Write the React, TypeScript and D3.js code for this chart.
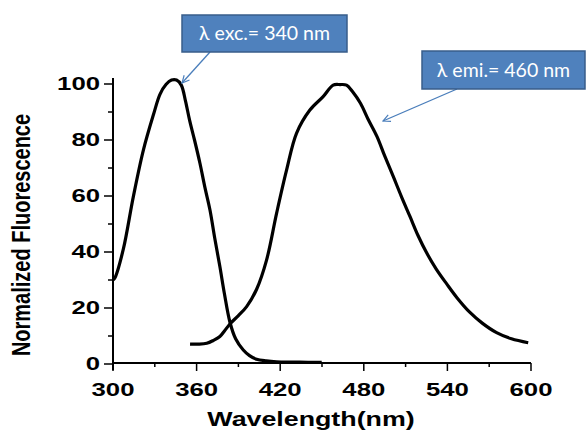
import React from 'react';
import * as d3 from 'd3';

// excitation spectrum
const excWave = [300, 301.4, 307.4, 314.6, 321.8, 329, 333.7, 338, 342, 345.6, 349, 352, 355, 358.5, 362.4, 366, 369.6, 373, 376.7, 380, 383.9, 388, 393.5, 398, 403, 410, 417.4, 430, 440, 449.8];
const excVal = [30, 30.8, 41, 59.8, 76.4, 89, 96.3, 99.8, 101.4, 101.4, 99.6, 94, 87, 80, 71.7, 63, 55, 45, 34.8, 25, 15, 9, 5, 3, 1.7, 1.1, 0.8, 0.7, 0.6, 0.6];

// emission spectrum
const emiWave = [355.3, 361, 367.3, 372, 376.7, 380, 383.9, 390, 395.9, 403, 410.2, 417.4, 424.6, 431.7, 441.3, 450.8, 458, 463, 467.6, 472, 477.6, 483, 489.5, 495, 501.2, 507, 513.2, 519, 525.1, 532, 539.5, 547, 556, 565, 575.3, 586, 598];
const emiVal = [7.1, 7.1, 7.4, 8.4, 9.8, 11.8, 14.3, 17.3, 20.5, 26.6, 37.1, 53.8, 69.3, 82.4, 90.7, 95.5, 99.6, 99.8, 99.6, 97.2, 93.1, 87.5, 81.2, 74.3, 66.9, 59.8, 52.6, 45.8, 39.7, 33.9, 28.6, 23.6, 18.5, 14.6, 11.2, 9, 7.6];

const xTicks = [300, 360, 420, 480, 540, 600];
const xMinor = [330, 390, 450, 510, 570];
const yTicks = [0, 20, 40, 60, 80, 100];
const yMinor = [10, 30, 50, 70, 90];

const callouts = [
  { text: 'λ exc.= 340 nm', box: [182, 15, 347, 52], from: [210, 52], to: [182, 83] },
  { text: 'λ emi.= 460 nm', box: [422, 51, 585, 89], from: [457, 89], to: [383, 121] },
];

const W = 586;
const H = 432;

export default function App() {
  const x = d3.scaleLinear().domain([300, 600]).range([113, 531]);
  const y = d3.scaleLinear().domain([0, 100]).range([364, 84]);

  const line = d3
    .line<[number, number]>()
    .x(d => x(d[0]))
    .y(d => y(d[1]))
    .curve(d3.curveCatmullRom.alpha(0.5));

  const exc = excWave.map((w, i) => [w, excVal[i]] as [number, number]);
  const emi = emiWave.map((w, i) => [w, emiVal[i]] as [number, number]);

  const tickFont = { fontFamily: 'Liberation Sans, Arial, sans-serif', fontWeight: 'bold', fontSize: 18 };

  return (
    <svg width={W} height={H} style={{ position: 'absolute', left: 0, top: 0, background: '#fff' }}>
      <defs>
        <marker id="arr" viewBox="0 0 10 10" refX="9" refY="5" markerWidth="9" markerHeight="9" orient="auto" markerUnits="userSpaceOnUse">
          <path d="M1,1 L9,5 L1,9" fill="none" stroke="#4a7ebb" strokeWidth="1.3" />
        </marker>
      </defs>

      {/* axes */}
      <line x1={x(300)} x2={x(300)} y1={78} y2={370} stroke="#000" strokeWidth={2} />
      <line x1={x(300)} x2={x(600)} y1={y(0) - 1} y2={y(0) - 1} stroke="#000" strokeWidth={2} />

      {yTicks.map(t => (
        <g key={'y' + t}>
          <line x1={x(300) - 9} x2={x(300)} y1={y(t)} y2={y(t)} stroke="#000" strokeWidth={1.5} />
          <text transform={`translate(100,${y(t)}) scale(1.43,1)`} textAnchor="end" dy="0.36em" {...tickFont}>
            {t}
          </text>
        </g>
      ))}
      {yMinor.map(t => (
        <line key={'ym' + t} x1={x(300) - 5} x2={x(300)} y1={y(t)} y2={y(t)} stroke="#000" strokeWidth={1.5} />
      ))}

      {xTicks.map(t => (
        <g key={'x' + t}>
          <line x1={x(t)} x2={x(t)} y1={y(0) - 1} y2={y(0) + 7} stroke="#000" strokeWidth={1.5} />
          <text transform={`translate(${x(t)},396) scale(1.43,1)`} textAnchor="middle" {...tickFont}>
            {t}
          </text>
        </g>
      ))}
      {xMinor.map(t => (
        <line key={'xm' + t} x1={x(t)} x2={x(t)} y1={y(0) - 1} y2={y(0) + 3} stroke="#000" strokeWidth={1.5} />
      ))}

      <text
        transform="translate(311,426) scale(1.34,1)"
        textAnchor="middle"
        fontFamily="Liberation Sans, Arial, sans-serif"
        fontWeight="bold"
        fontSize={20}
      >
        Wavelength(nm)
      </text>
      <text
        transform="translate(30,235) rotate(-90) scale(1,1.3)"
        textAnchor="middle"
        fontFamily="Liberation Sans, Arial, sans-serif"
        fontWeight="bold"
        fontSize={20}
      >
        Normalized Fluorescence
      </text>

      {/* spectra */}
      <path d={line(exc) || ''} fill="none" stroke="#000" strokeWidth={3.2} strokeLinejoin="round" />
      <path d={line(emi) || ''} fill="none" stroke="#000" strokeWidth={3.2} strokeLinejoin="round" />

      {/* callouts */}
      {callouts.map(c => (
        <g key={c.text}>
          <line x1={c.from[0]} y1={c.from[1]} x2={c.to[0]} y2={c.to[1]} stroke="#4a7ebb" strokeWidth={1.3} markerEnd="url(#arr)" />
          <rect
            x={c.box[0]}
            y={c.box[1]}
            width={c.box[2] - c.box[0]}
            height={c.box[3] - c.box[1]}
            fill="#4f81bd"
            stroke="#385d8a"
            strokeWidth={1.5}
          />
          <text
            x={(c.box[0] + c.box[2]) / 2}
            y={(c.box[1] + c.box[3]) / 2}
            dy="0.35em"
            textAnchor="middle"
            fill="#fff"
            fontFamily="Lato, sans-serif"
            fontSize={19.5}
          >
            {c.text}
          </text>
        </g>
      ))}
    </svg>
  );
}
